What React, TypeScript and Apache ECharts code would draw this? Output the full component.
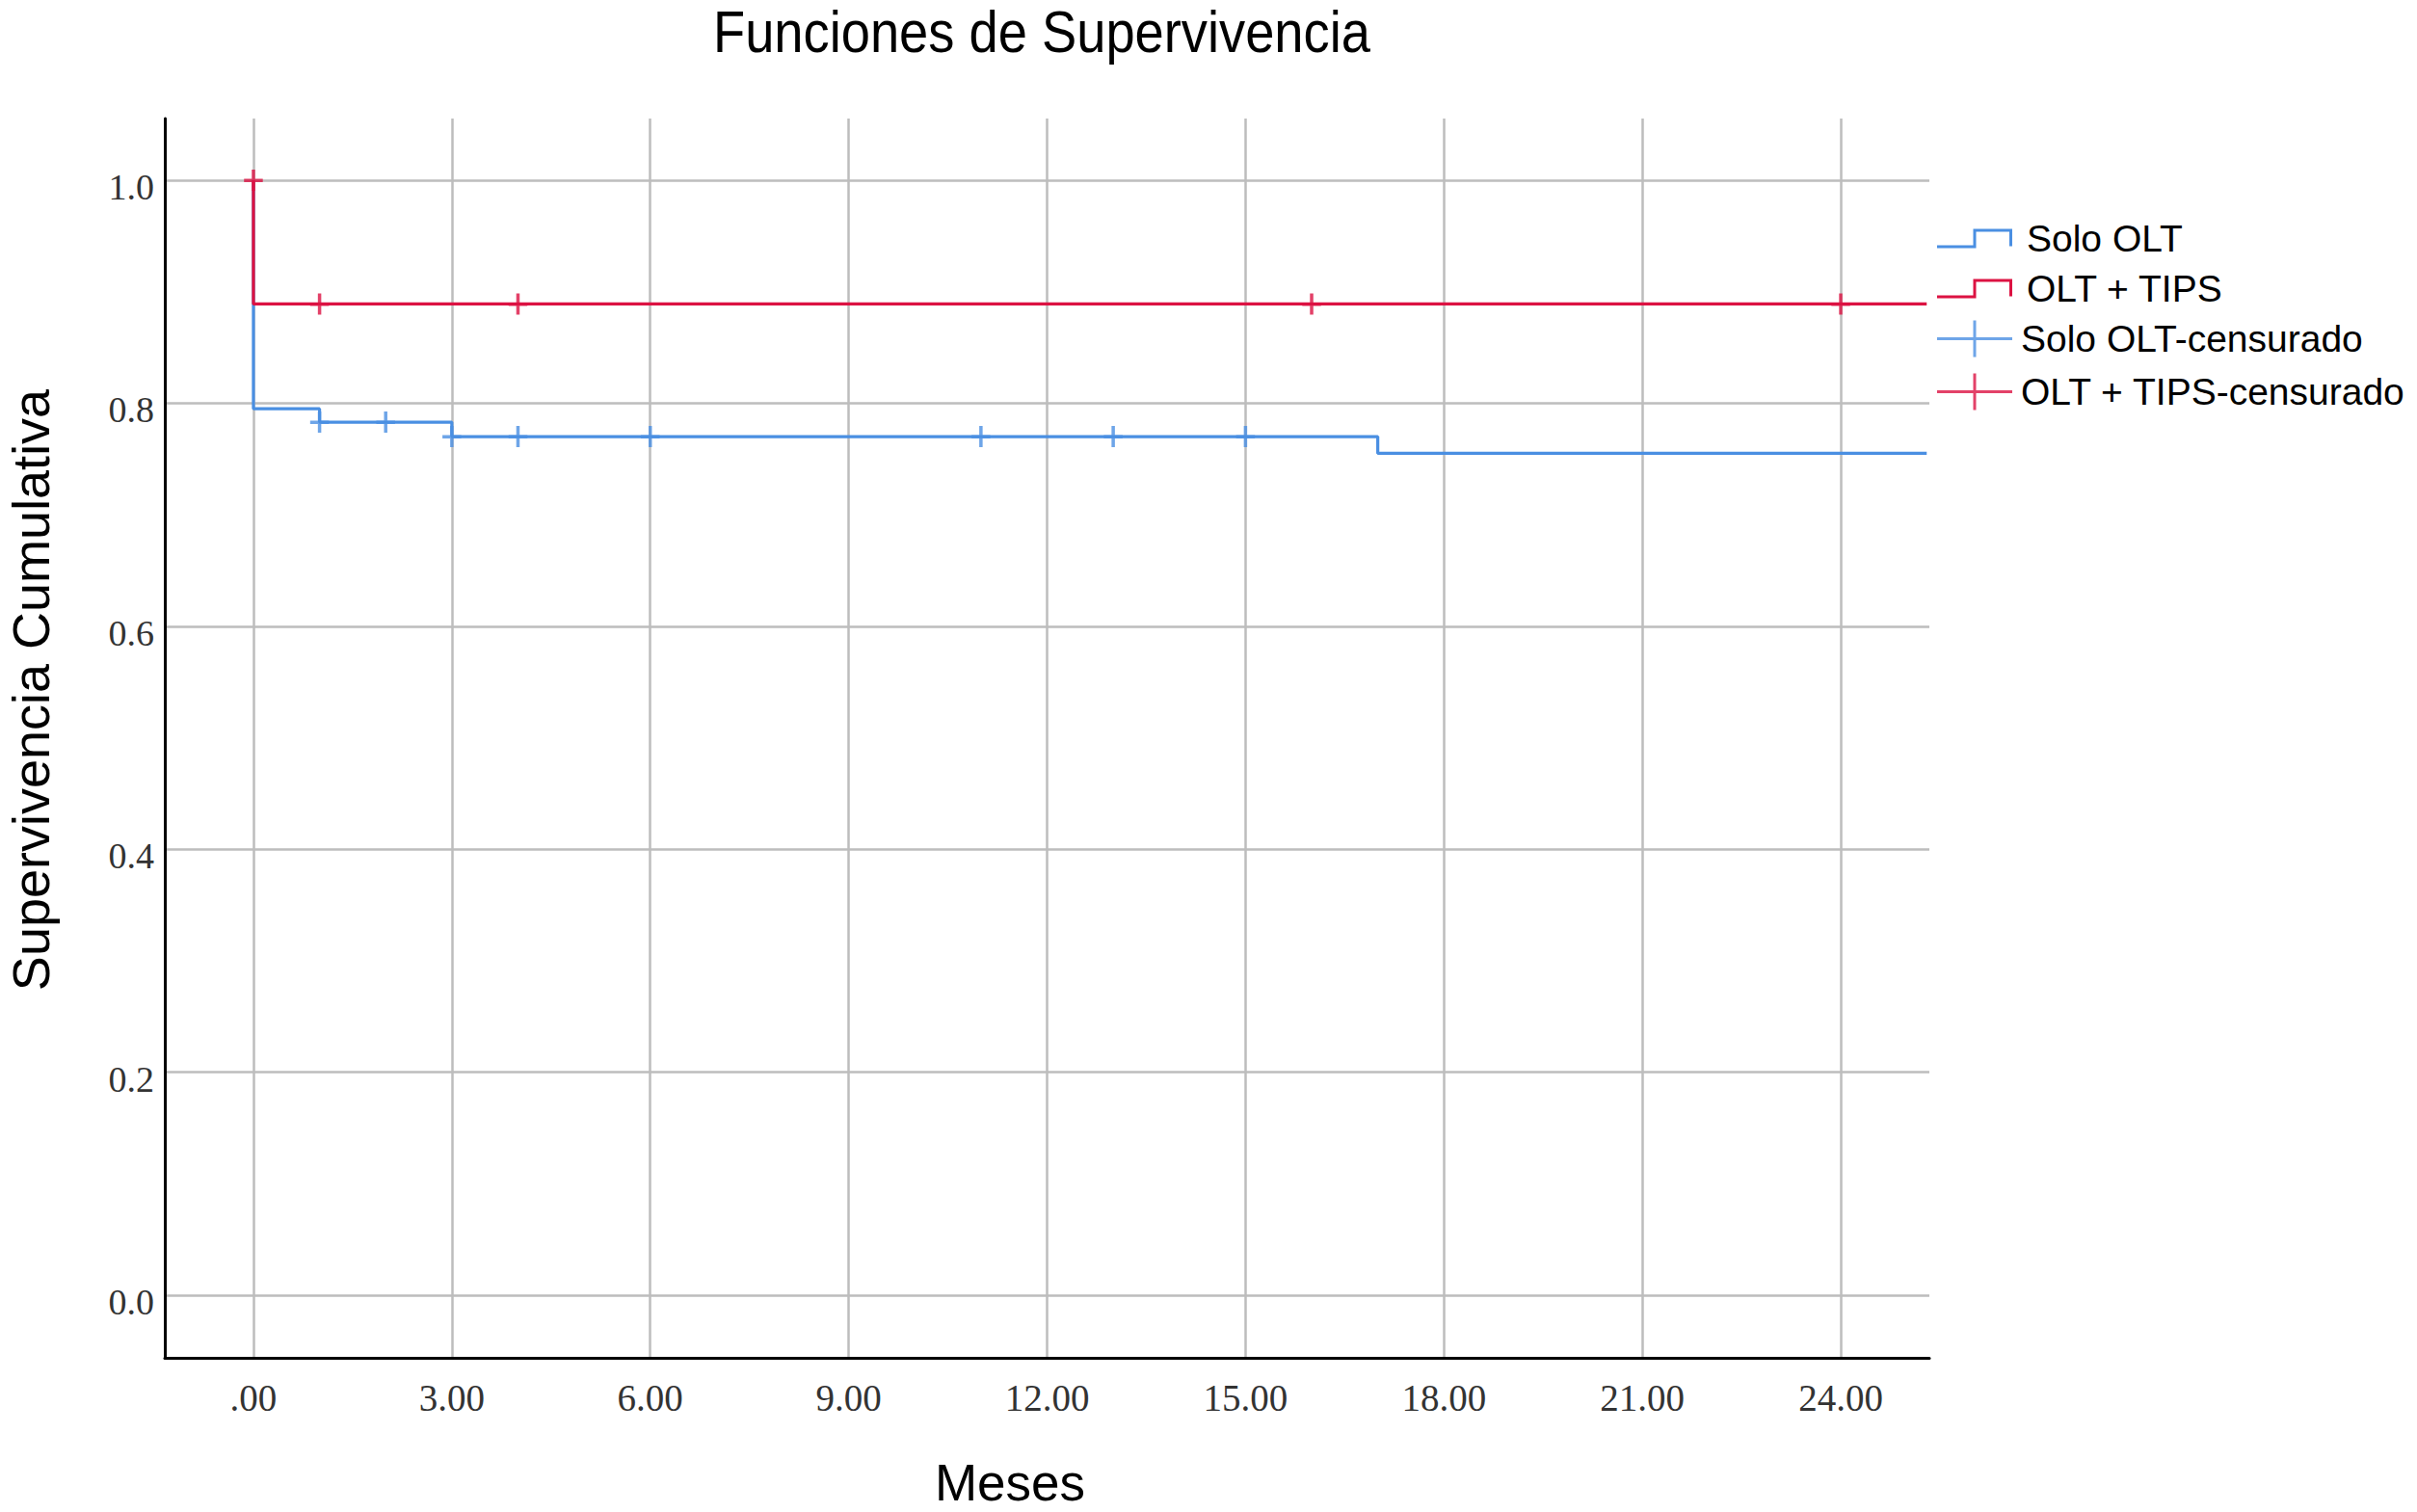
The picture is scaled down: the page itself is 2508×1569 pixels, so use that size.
import React, { useEffect, useRef } from "react";
import * as echarts from "echarts";

const TITLE = "Funciones de Supervivencia";
const X_NAME = "Meses";
const Y_NAME = "Supervivencia Cumulativa";

const X_TICKS = [0, 3, 6, 9, 12, 15, 18, 21, 24];
const Y_TICKS = [0, 0.2, 0.4, 0.6, 0.8, 1.0];

// Kaplan-Meier step curves (time in months, cumulative survival)
const SOLO_TIMES = [0, 0, 1, 3, 17, 25.3];
const SOLO_SURV = [1, 0.795, 0.783, 0.77, 0.755, 0.755];
const TIPS_TIMES = [0, 0, 25.3];
const TIPS_SURV = [1, 0.889, 0.889];

// censored observations
const SOLO_CENS_TIMES = [1, 2, 3, 4, 6, 11, 13, 15];
const SOLO_CENS_SURV = [0.783, 0.783, 0.77, 0.77, 0.77, 0.77, 0.77, 0.77];
const TIPS_CENS_TIMES = [0, 1, 4, 16, 24];
const TIPS_CENS_SURV = [1, 0.889, 0.889, 0.889, 0.889];

const SERIES_NAMES = ["Solo OLT", "OLT + TIPS", "Solo OLT-censurado", "OLT + TIPS-censurado"];

const BLUE = "#4a8fe2";
const RED = "#dc1242";

const CROSS = "path://M8,0 H11.5 V9.5 H19.5 V13 H11.5 V22 H8 V13 H0 V9.5 H8 Z";
const STEP_ICON = "path://M0,17 H37.5 V0 H78 V18 H75 V3 H40.5 V20 H0 Z";
const CROSS_ICON = "path://M0,17.5 H37.5 V0 H40.5 V17.5 H78 V20.5 H40.5 V38 H37.5 V20.5 H0 Z";

const zip = (a: number[], b: number[]) => a.map((v, i) => [v, b[i]]);

export default function App() {
  const ref = useRef<HTMLDivElement>(null);
  useEffect(() => {
    document.body.style.margin = "0";
    const chart = echarts.init(ref.current!, null, { renderer: "svg" });
    const sans = "'Liberation Sans', Arial, sans-serif";
    const serif = "'Liberation Serif', 'Times New Roman', serif";
    chart.setOption({
      animation: false,
      backgroundColor: "#ffffff",
      graphic: [
        {
          type: "text",
          x: 740,
          y: 2,
          scaleX: 0.89,
          style: {
            text: TITLE,
            x: 0,
            y: 0,
            font: "61px 'Liberation Sans', Arial, sans-serif",
            fill: "#000",
            verticalAlign: "top",
            align: "left",
            lineHeight: 61,
          },
        },
      ],
      legend: [
        {
          data: SERIES_NAMES.slice(0, 2).map((n) => ({ name: n, icon: STEP_ICON })),
          orient: "vertical",
          left: 2010,
          top: 225,
          padding: 0,
          itemWidth: 78,
          itemHeight: 20,
          itemGap: 7,
          selectedMode: false,
          textStyle: { fontFamily: sans, fontSize: 39, color: "#000", lineHeight: 45, padding: [0, 0, 0, 10] },
        },
        {
          data: SERIES_NAMES.slice(2, 4).map((n) => ({ name: n, icon: CROSS_ICON })),
          orient: "vertical",
          left: 2010,
          top: 329,
          padding: 0,
          itemWidth: 78,
          itemHeight: 38,
          itemGap: 10,
          selectedMode: false,
          textStyle: { fontFamily: sans, fontSize: 39, color: "#000", lineHeight: 45, padding: [0, 0, 0, 4] },
        },
      ],
      grid: { left: 171, top: 123, right: 506, bottom: 160, containLabel: false, outerBoundsMode: "none" },
      xAxis: {
        type: "value",
        min: -1.34,
        max: 25.34,
        name: X_NAME,
        nameLocation: "middle",
        nameGap: 109,
        nameTextStyle: { fontFamily: sans, fontSize: 53, color: "#000", lineHeight: 40, padding: [0, 77, 0, 0] },
        axisLine: { show: true, onZero: false, lineStyle: { color: "#000", width: 3 } },
        axisTick: { show: false, customValues: X_TICKS },
        axisLabel: {
          customValues: X_TICKS,
          margin: 22,
          fontFamily: serif,
          fontSize: 39,
          lineHeight: 39,
          color: "#333",
          formatter: (v: number) => (v === 0 ? ".00" : v.toFixed(2)),
        },
        splitLine: { show: true, lineStyle: { color: "#bdbdbd", width: 2.5 } },
      },
      yAxis: {
        type: "value",
        min: -0.0562,
        max: 1.0553,
        name: Y_NAME,
        nameLocation: "middle",
        nameGap: 112,
        nameRotate: 90,
        nameTextStyle: { fontFamily: sans, fontSize: 54, color: "#000", lineHeight: 54, padding: [0, 0, 0, 100] },
        axisLine: { show: true, onZero: false, lineStyle: { color: "#000", width: 3 } },
        axisTick: { show: false, customValues: Y_TICKS },
        axisLabel: {
          customValues: Y_TICKS,
          margin: 11,
          fontFamily: serif,
          fontSize: 38,
          lineHeight: 14,
          verticalAlign: "top",
          color: "#333",
          formatter: (v: number) => v.toFixed(1),
        },
        splitLine: { show: true, lineStyle: { color: "#bdbdbd", width: 2.5 } },
      },
      series: [
        {
          name: SERIES_NAMES[0],
          type: "line",
          step: "end",
          data: zip(SOLO_TIMES, SOLO_SURV),
          showSymbol: false,
          symbol: "none",
          color: BLUE,
          lineStyle: { color: BLUE, width: 3.2 },
          z: 2,
        },
        {
          name: SERIES_NAMES[1],
          type: "line",
          step: "end",
          data: zip(TIPS_TIMES, TIPS_SURV),
          showSymbol: false,
          symbol: "none",
          color: RED,
          lineStyle: { color: RED, width: 3.2 },
          z: 3,
        },
        {
          name: SERIES_NAMES[2],
          type: "scatter",
          data: zip(SOLO_CENS_TIMES, SOLO_CENS_SURV),
          symbol: CROSS,
          symbolSize: [19.5, 22],
          color: BLUE,
          itemStyle: { color: BLUE },
          z: 4,
        },
        {
          name: SERIES_NAMES[3],
          type: "scatter",
          data: zip(TIPS_CENS_TIMES, TIPS_CENS_SURV),
          symbol: CROSS,
          symbolSize: [19.5, 22],
          color: RED,
          itemStyle: { color: RED },
          z: 5,
        },
      ],
    });
    return () => chart.dispose();
  }, []);
  return <div ref={ref} style={{ width: 2508, height: 1569 }} />;
}
